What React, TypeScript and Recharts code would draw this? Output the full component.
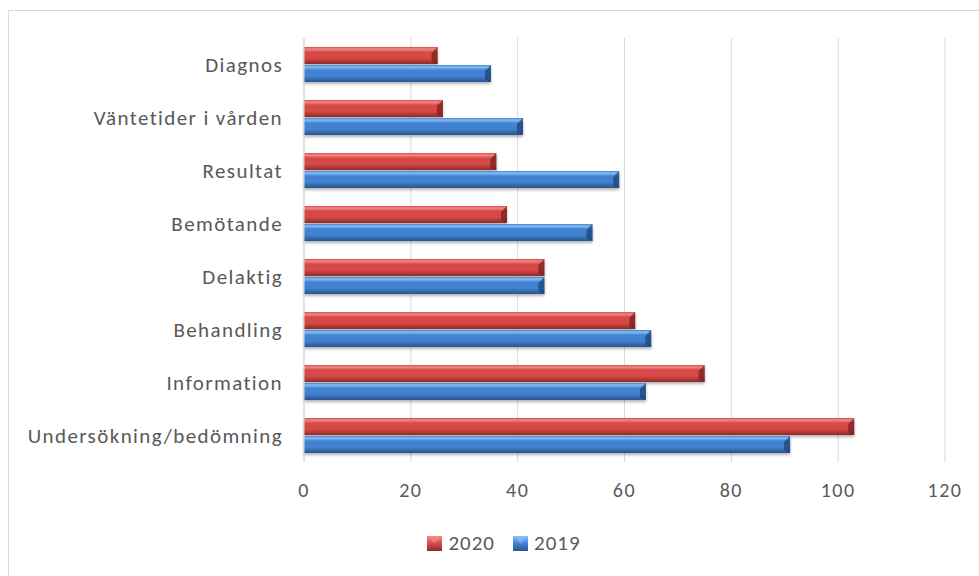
import React from 'react';
import { Bar, BarChart, CartesianGrid, Legend, XAxis, YAxis } from 'recharts';

const categories = [
  'Diagnos',
  'Väntetider i vården',
  'Resultat',
  'Bemötande',
  'Delaktig',
  'Behandling',
  'Information',
  'Undersökning/bedömning',
];
const values2020 = [25, 26, 36, 38, 45, 62, 75, 103];
const values2019 = [35, 41, 59, 54, 45, 65, 64, 91];
const xTicks = [0, 20, 40, 60, 80, 100, 120];

const data = categories.map((name, i) => ({ name, y2020: values2020[i], y2019: values2019[i] }));

const FONT = 'Carlito, Calibri, Lato, sans-serif';
const TEXT = '#595959';

const palette: Record<string, { light: string; base: string; dark: string; end: string }> = {
  red: { light: '#f28a87', base: '#d64a46', dark: '#8f2a28', end: '#7a2220' },
  blue: { light: '#86bff5', base: '#4282d0', dark: '#28558f', end: '#1f4677' },
};

const bevelBar = (key: string) => (props: any) => {
  const { x, y, width, height } = props;
  if (!width || width <= 0) return null;
  const c = palette[key];
  const b = Math.min(6, width / 2);
  return (
    <g filter="url(#barShadow)">
      <rect x={x} y={y} width={width} height={height} fill={`url(#grad-${key})`} />
      <polygon
        points={`${x + width - b},${y + b} ${x + width},${y} ${x + width},${y + height} ${x + width - b},${y + height - b * 0.4}`}
        fill={c.end}
        opacity={0.75}
      />
    </g>
  );
};

const LegendContent = () => (
  <div style={{ display: 'flex', justifyContent: 'center', gap: 18, fontFamily: FONT, fontSize: 21, letterSpacing: 1, color: TEXT }}>
    {[
      { label: '2020', key: 'red' },
      { label: '2019', key: 'blue' },
    ].map((it) => (
      <span key={it.label} style={{ display: 'inline-flex', alignItems: 'center', gap: 6 }}>
        <svg width={15} height={15}>
          <rect x={0} y={0} width={15} height={15} fill={`url(#lg-${it.key})`} />
          <polygon points="0,0 15,0 7.5,7.5" fill={palette[it.key].light} opacity={0.6} />
        </svg>
        {it.label}
      </span>
    ))}
  </div>
);

export default function App() {
  return (
    <div style={{ position: 'absolute', left: 8, top: 10, width: 992, height: 590, border: '1px solid #d9d9d9', background: '#fff', overflow: 'hidden' }}>
      <svg width={0} height={0} style={{ position: 'absolute' }}>
        <defs>
          {Object.entries(palette).map(([k, c]) => (
            <linearGradient key={k} id={`lg-${k}`} x1="0" y1="0" x2="0" y2="1">
              <stop offset="0%" stopColor={c.light} />
              <stop offset="50%" stopColor={c.base} />
              <stop offset="100%" stopColor={c.dark} />
            </linearGradient>
          ))}
        </defs>
      </svg>
      <BarChart
        width={990}
        height={588}
        data={data}
        layout="vertical"
        margin={{ top: 27, right: 54, left: 0, bottom: 67 }}
        barCategoryGap={9}
        barGap={1}
      >
        <defs>
          {Object.entries(palette).map(([k, c]) => (
            <linearGradient key={k} id={`grad-${k}`} x1="0" y1="0" x2="0" y2="1">
              <stop offset="0%" stopColor={c.base} />
              <stop offset="12%" stopColor={c.light} />
              <stop offset="30%" stopColor={c.base} />
              <stop offset="65%" stopColor={c.base} />
              <stop offset="100%" stopColor={c.dark} />
            </linearGradient>
          ))}
          <filter id="barShadow" x="-5%" y="-20%" width="110%" height="160%">
            <feDropShadow dx="0" dy="2" stdDeviation="1.5" floodColor="#000" floodOpacity="0.3" />
          </filter>
        </defs>
        <CartesianGrid horizontal={false} stroke="#d9d9d9" />
        <XAxis
          type="number"
          domain={[0, 120]}
          ticks={xTicks}
          axisLine={false}
          tickLine={false}
          tickMargin={15}
          height={40}
          tick={{ fill: TEXT, fontSize: 20, fontFamily: FONT, letterSpacing: 1.5 }}
        />
        <YAxis
          type="category"
          dataKey="name"
          width={295}
          axisLine={{ stroke: '#d9d9d9' }}
          tickLine={false}
          tickMargin={15}
          tick={{ fill: TEXT, fontSize: 21, fontFamily: FONT, letterSpacing: 1.4 }}
        />
        <Legend verticalAlign="bottom" height={30} wrapperStyle={{ top: 519, left: 0, width: 990 }} content={<LegendContent />} />
        <Bar dataKey="y2020" name="2020" fill="#c0504d" shape={bevelBar('red')} isAnimationActive={false} />
        <Bar dataKey="y2019" name="2019" fill="#4f81bd" shape={bevelBar('blue')} isAnimationActive={false} />
      </BarChart>
    </div>
  );
}
